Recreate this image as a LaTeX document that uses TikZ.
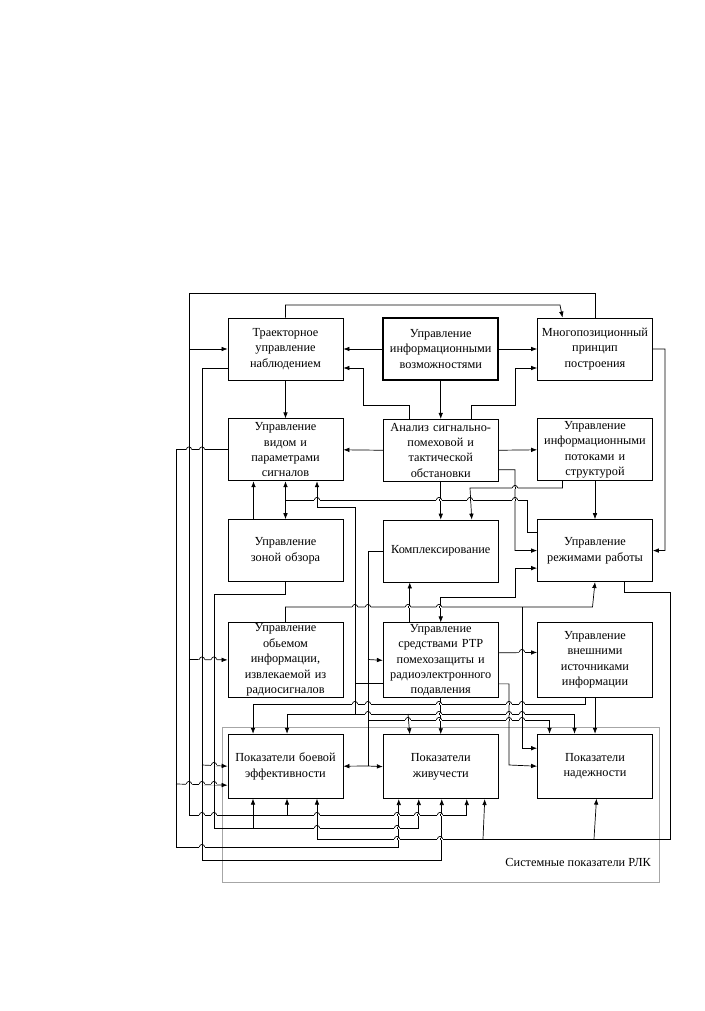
\documentclass[tikz,border=0pt]{standalone}
\usepackage{fontspec}
\setmainfont{Liberation Serif}
\usetikzlibrary{positioning,arrows.meta}

\begin{document}
\begin{tikzpicture}[x=1pt,y=-1pt,
  blk/.style={rectangle,draw=black,line width=0.8pt,align=center,text width=113pt,minimum width=115pt,minimum height=62pt,inner sep=1pt,font=\fontsize{12.3}{15.4}\selectfont},
  tall/.style={blk,minimum height=75pt},
  low/.style={blk,minimum height=64pt},
  wire/.style={line width=0.7pt},
  arr/.style={wire,-{Latex[length=6pt,width=4.6pt]}},
  dbl/.style={wire,{Latex[length=6pt,width=4.6pt]}-{Latex[length=6pt,width=4.6pt]}},
  frame/.style={draw=black!35,line width=0.7pt}
]
\useasboundingbox (0,0) rectangle (704,1011);

\node[blk] (traj) at (285.5,349) {Траекторное\\управление\\наблюдением};
\node[blk,line width=1.7pt,right=39pt of traj] (infcap) {Управление\\информационными\\возможностями};
\node[blk,right=38pt of infcap] (multi) {Многопозиционный\\принцип\\построения};
\node[blk,below=38pt of traj] (signal) {Управление\\видом и\\параметрами\\сигналов};
\node[blk,below=38pt of infcap] (analysis) {Анализ сигнально-\\помеховой и\\тактической\\обстановки};
\node[blk,below=38pt of multi] (flows) {Управление\\информационными\\потоками и\\структурой};
\node[blk,below=38pt of signal] (zone) {Управление\\зоной обзора};
\node[blk,below=38pt of analysis] (complex) {Комплексирование};
\node[blk,below=38pt of flows] (modes) {Управление\\режимами работы};
\node[tall,below=40pt of zone] (volume) {Управление\\обьемом\\информации,\\извлекаемой из\\радиосигналов};
\node[tall,below=40pt of complex] (ctrlrtr) {Управление\\средствами РТР\\помехозащиты и\\радиоэлектронного\\подавления};
\node[tall,below=40pt of modes] (external) {Управление\\внешними\\источниками\\информации};
\node[low,below=36pt of volume] (effic) {Показатели боевой\\эффективности};
\node[low,below=36pt of ctrlrtr] (surv) {Показатели\\живучести};
\node[low,below=36pt of external] (reliab) {Показатели\\надежности};

\draw[frame] (222,727) rectangle (659,882);
\node[anchor=east,inner sep=0pt,font=\fontsize{12.3}{14}\selectfont] (syslbl) at (651,862) {Системные показатели РЛК};

% upper rows
\draw[arr] (infcap.west) -- (traj.east);
\draw[arr] (infcap.east) -- (multi.west);
\draw[arr] (infcap.south) -- (analysis.north);
\draw[arr] (traj.south) -- (signal.north);
\draw[arr] ([xshift=-31pt]analysis.north) |- (363,405) |- ([yshift=-19pt]traj.east);
\draw[arr] ([xshift=31pt]analysis.north) |- (515,405) |- ([yshift=-19pt]multi.west);
\draw[arr] (traj.north) |- (560,305) -- ([xshift=-32.5pt]multi.north);
\draw[arr] (multi.east) -| (665,550.5) -- (modes.east);
\draw[arr] (analysis.west) -- (signal.east);
\draw[arr] (analysis.east) -- (flows.west);
\draw[arr] ([xshift=-32.5pt]flows.south) |- (470,488) -- ([xshift=31pt]complex.north);
\draw[arr] (flows.south) -- (modes.north);
\draw[arr] (analysis.south) -- (complex.north);
\draw[arr] ([yshift=-19.5pt]analysis.east) -| (515,550.5) -- (modes.west);

% left buses
\draw[arr] (multi.north) |- (189,293) -- (189,815) -| ([xshift=26pt]surv.south);
\draw[arr] (189,349) -- (traj.west);
\draw[arr] (189,659.5) -- (volume.west);
\draw[arr] (287,815) -- ([xshift=1.5pt]effic.south);
\draw[arr] (signal.west) -| (176,847) -| ([xshift=-42pt]surv.south);
\draw[arr] (176,784) -- ([yshift=-19pt]effic.west);
\draw[arr] ([yshift=-19pt]traj.west) -| (202,860) -| ([xshift=1pt]surv.south);
\draw[arr] (202,765) -- (effic.west);
\draw[arr] (zone.south) |- (214,594) -- (214,828) -| ([xshift=-22pt]surv.south);
\draw[arr] (253,828) -- ([xshift=-32.5pt]effic.south);

% middle rows
\draw[arr] ([xshift=-32pt]zone.north) -- ([xshift=-32pt]signal.south);
\draw[wire] ([yshift=18.5pt]modes.west) -| (527,500) -- (285.5,500);
\draw[arr] (285.5,500) -- (signal.south);
\draw[arr] (285.5,500) -- (zone.north);
\draw[arr] ([yshift=-22.5pt]ctrlrtr.west) -| (355,507) -| ([xshift=31.5pt]signal.south);
\draw[wire] (complex.west) -| (368,766);
\draw[arr] (368,766) -- (effic.east);
\draw[arr] (368,766) -- (surv.west);
\draw[arr] (368,659.5) -- (ctrlrtr.west);
\draw[arr] ([xshift=-31pt]ctrlrtr.north) -- ([xshift=-31pt]complex.south);
\draw[dbl] (ctrlrtr.north) |- (515,597) |- ([yshift=-17.5pt]modes.west);
\draw[arr] (volume.north) |- (592.5,607) -- (modes.south);
\draw[arr] (522,607) |- ([yshift=18pt]reliab.west);
\draw[arr] ([yshift=7.5pt]ctrlrtr.east) -- ([yshift=7.5pt]external.west);
\draw[arr] ([yshift=-23.5pt]ctrlrtr.east) -| (509,765) -- (reliab.west);
\draw[arr] (ctrlrtr.south) -- (surv.north);

% right bus
\draw[arr] ([xshift=29.5pt]modes.south) |- (670,592) -- (670,839) -| ([xshift=31.5pt]effic.south);
\draw[arr] (594,839) -- ([xshift=1.5pt]reliab.south);
\draw[arr] (483,839) -- ([xshift=44pt]surv.south);

% lower gap
\draw[arr] ([xshift=-9.5pt]external.south) |- (253,704) -- ([xshift=-32.5pt]effic.north);
\draw[arr] (external.south) -- (reliab.north);
\draw[arr] (355,682) |- (287,714) -- ([xshift=1.5pt]effic.north);
\draw[arr] (355,714) -| ([xshift=-20.5pt]reliab.north);
\draw[arr] (408,714) -- ([xshift=-31pt]surv.north);
\draw[arr] (368,720) -| ([xshift=-45.5pt]reliab.north);

% hops
\foreach \x/\y in {189/449.5,202/449.5,202/659.5,214/659.5,214/765,189/784,202/784,214/784,
  202/815,214/815,317/815,397/815,417/815,440/815,317/828,397/828,440/839,397/839,202/847,
  355/607,368/607,408/607,439/607,317/500,439/500,470/500,515/500,515/488,522/652,
  355/704,368/704,439/704,509/704,522/704,368/714,439/714,509/714,522/714,
  408/720,439/720,509/720,522/720} {
  \fill[white] (\x-2.8,\y-1) rectangle (\x+2.8,\y+1);
  \draw[wire] (\x-2.6,\y) arc (180:360:2.6);
  \draw[wire] (\x,\y-1.3) -- (\x,\y+1.3);
}
\end{tikzpicture}
\end{document}
